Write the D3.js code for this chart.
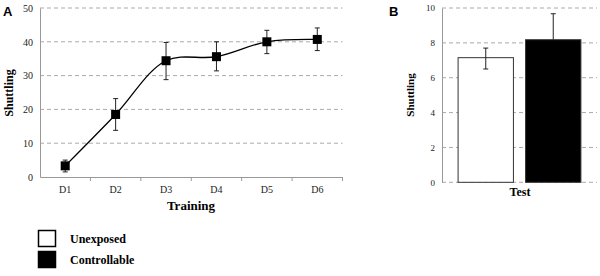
<!DOCTYPE html>
<html>
<head>
<meta charset="utf-8">
<script src="https://cdn.jsdelivr.net/npm/d3@7"></script>
<style>
  body { margin: 0; background: #fff; }
</style>
</head>
<body>
<svg id="chart" width="600" height="276" font-family="Liberation Serif, Times New Roman, serif"></svg>
<script>
// Panel A data (training)
const days = ["D1", "D2", "D3", "D4", "D5", "D6"];
const shuttling = [3.3, 18.5, 34.4, 35.6, 40.0, 40.7];
const errLow = [1.5, 13.8, 28.8, 31.4, 36.5, 37.4];
const errHigh = [5.0, 23.2, 39.8, 40.0, 43.4, 44.1];
const ticksA = [0, 10, 20, 30, 40, 50];

// Panel B data (test)
const groups = ["Unexposed", "Controllable"];
const testValues = [7.15, 8.18];
const testLow = [6.5, 8.18];
const testHigh = [7.7, 9.67];
const ticksB = [0, 2, 4, 6, 8, 10];
const groupColors = ["#fff", "#000"];

const svg = d3.select("#chart");
const axisGrey = "#999";

// ---------- Panel A ----------
const xA = d3.scaleBand().domain(days).range([40, 342.5]);
const yA = d3.scaleLinear().domain([0, 50]).range([177, 8]);

// grid lines
svg.append("g")
  .selectAll("line")
  .data(ticksA.filter(d => d > 0))
  .join("line")
    .attr("x1", 40).attr("x2", 342.5)
    .attr("y1", d => yA(d)).attr("y2", d => yA(d))
    .attr("stroke", "#aaa")
    .attr("stroke-dasharray", "4,3");

// y axis
const gyA = svg.append("g")
  .attr("transform", "translate(40,0)")
  .call(d3.axisLeft(yA).tickValues(ticksA).tickSize(0).tickPadding(7));
gyA.select(".domain").attr("stroke", axisGrey);
gyA.selectAll("text").attr("font-family", "Liberation Serif").attr("font-size", 10).attr("fill", "#222");

// x axis with ticks between categories
const gxA = svg.append("g")
  .attr("transform", "translate(0,177)")
  .call(d3.axisBottom(xA).tickSize(0).tickPadding(9));
gxA.select(".domain").attr("stroke", axisGrey);
gxA.selectAll("text").attr("font-family", "Liberation Serif").attr("font-size", 10).attr("fill", "#222");
svg.append("g")
  .selectAll("line")
  .data(days.slice(1).concat(["end"]))
  .join("line")
    .attr("x1", (d, i) => i < days.length - 1 ? xA(d) : xA.range()[1])
    .attr("x2", (d, i) => i < days.length - 1 ? xA(d) : xA.range()[1])
    .attr("y1", 177).attr("y2", 181)
    .attr("stroke", axisGrey);

// line
const pts = days.map((d, i) => [xA(d) + xA.bandwidth() / 2, yA(shuttling[i])]);
svg.append("path")
  .attr("d", d3.line().curve(d3.curveCatmullRom.alpha(0.5))(pts))
  .attr("fill", "none")
  .attr("stroke", "#000")
  .attr("stroke-width", 1.3);

// error bars
const eb = svg.append("g").attr("stroke", "#222").attr("stroke-width", 1);
days.forEach((d, i) => {
  const cx = xA(d) + xA.bandwidth() / 2;
  eb.append("line").attr("x1", cx).attr("x2", cx).attr("y1", yA(errLow[i])).attr("y2", yA(errHigh[i]));
  eb.append("line").attr("x1", cx - 2.5).attr("x2", cx + 2.5).attr("y1", yA(errLow[i])).attr("y2", yA(errLow[i]));
  eb.append("line").attr("x1", cx - 2.5).attr("x2", cx + 2.5).attr("y1", yA(errHigh[i])).attr("y2", yA(errHigh[i]));
});

// markers
svg.append("g")
  .selectAll("rect")
  .data(days)
  .join("rect")
    .attr("x", d => xA(d) + xA.bandwidth() / 2 - 4.5)
    .attr("y", (d, i) => yA(shuttling[i]) - 4.5)
    .attr("width", 9).attr("height", 9)
    .attr("fill", "#000");

svg.append("text")
  .attr("x", 191).attr("y", 210)
  .attr("text-anchor", "middle")
  .attr("font-size", 13).attr("font-weight", "bold")
  .text("Training");

svg.append("text")
  .attr("transform", "translate(13,93) rotate(-90)")
  .attr("text-anchor", "middle")
  .attr("font-size", 12).attr("font-weight", "bold")
  .text("Shuttling");

svg.append("text")
  .attr("x", 3).attr("y", 16)
  .attr("font-family", "Liberation Sans, Arial, sans-serif").attr("font-size", 13).attr("font-weight", "bold")
  .text("A");

// ---------- Panel B ----------
const xB = d3.scaleBand().domain(groups).range([450, 589]).paddingInner(0.18).paddingOuter(0.12);
const yB = d3.scaleLinear().domain([0, 10]).range([182.3, 8]);

svg.append("g")
  .selectAll("line")
  .data(ticksB)
  .join("line")
    .attr("x1", 442).attr("x2", 597)
    .attr("y1", d => yB(d)).attr("y2", d => yB(d))
    .attr("stroke", "#aaa")
    .attr("stroke-dasharray", "4,3");

const gyB = svg.append("g")
  .attr("transform", "translate(442,0)")
  .call(d3.axisLeft(yB).tickValues(ticksB).tickSize(0).tickPadding(7));
gyB.select(".domain").attr("stroke", axisGrey);
gyB.selectAll("text").attr("font-family", "Liberation Serif").attr("font-size", 9).attr("fill", "#222");

svg.append("g")
  .selectAll("rect")
  .data(groups)
  .join("rect")
    .attr("x", d => xB(d))
    .attr("y", (d, i) => yB(testValues[i]))
    .attr("width", xB.bandwidth())
    .attr("height", (d, i) => yB(0) - yB(testValues[i]))
    .attr("fill", (d, i) => groupColors[i])
    .attr("stroke", "#333")
    .attr("stroke-width", 1);

const ebB = svg.append("g").attr("stroke", "#222").attr("stroke-width", 1);
groups.forEach((g, i) => {
  const cx = xB(g) + xB.bandwidth() / 2;
  ebB.append("line").attr("x1", cx).attr("x2", cx).attr("y1", yB(testLow[i])).attr("y2", yB(testHigh[i]));
  ebB.append("line").attr("x1", cx - 2.5).attr("x2", cx + 2.5).attr("y1", yB(testHigh[i])).attr("y2", yB(testHigh[i]));
  if (testLow[i] < testValues[i])
    ebB.append("line").attr("x1", cx - 2.5).attr("x2", cx + 2.5).attr("y1", yB(testLow[i])).attr("y2", yB(testLow[i]));
});

svg.append("text")
  .attr("x", 520).attr("y", 196)
  .attr("text-anchor", "middle")
  .attr("font-size", 12).attr("font-weight", "bold")
  .text("Test");

svg.append("text")
  .attr("transform", "translate(414,95) rotate(-90)")
  .attr("text-anchor", "middle")
  .attr("font-size", 11).attr("font-weight", "bold")
  .text("Shuttling");

svg.append("text")
  .attr("x", 389).attr("y", 16)
  .attr("font-family", "Liberation Sans, Arial, sans-serif").attr("font-size", 13).attr("font-weight", "bold")
  .text("B");

// ---------- Legend ----------
const legend = svg.append("g");
groups.forEach((g, i) => {
  const y0 = 230 + i * 21;
  legend.append("rect")
    .attr("x", 38.5).attr("y", y0 + 0.5)
    .attr("width", 17).attr("height", 16)
    .attr("fill", groupColors[i])
    .attr("stroke", "#000").attr("stroke-width", 1.5);
  legend.append("text")
    .attr("x", 70).attr("y", y0 + 12.5)
    .attr("font-size", 12).attr("font-weight", "bold")
    .text(g);
});
</script>
</body>
</html>
